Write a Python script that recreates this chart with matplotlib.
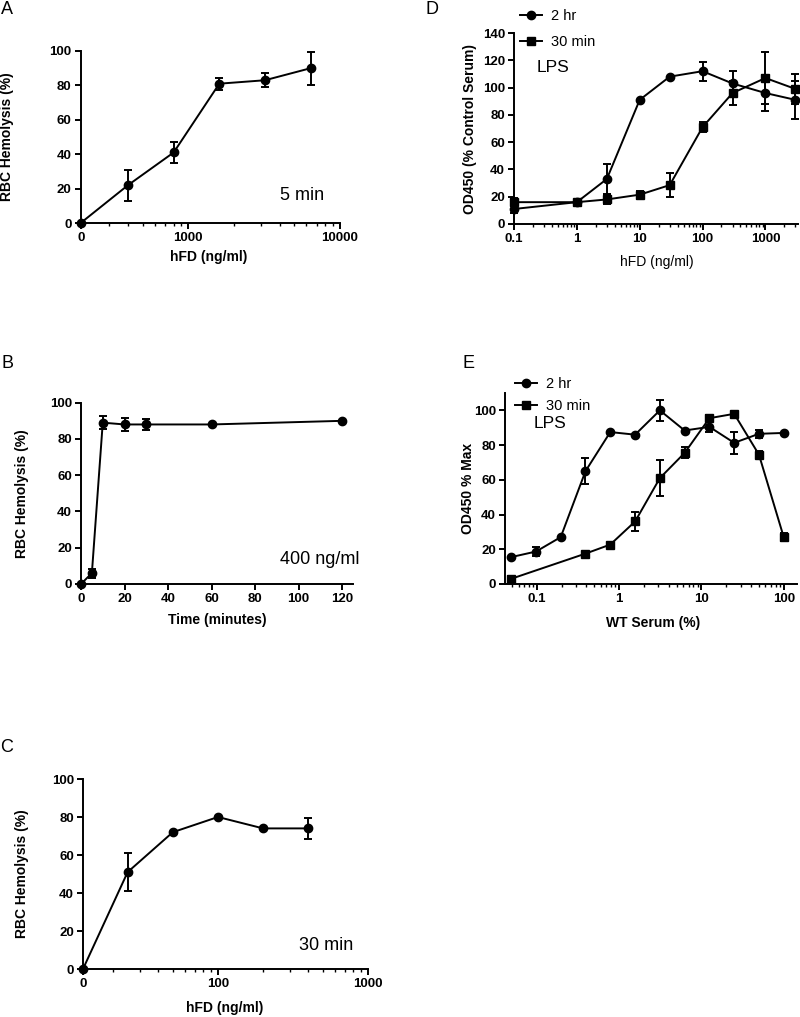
import numpy as np
import matplotlib
matplotlib.use("Agg")
import matplotlib.pyplot as plt
from matplotlib.ticker import FixedLocator, NullFormatter, LogLocator

plt.rcParams['font.family'] = ['Liberation Sans', 'DejaVu Sans']

# ---------------- data ----------------
A_dose = [0, 400, 800, 1600, 3200, 6400]
A_hemo = [0, 22, 41, 81, 83, 90]
A_err = [0, 9, 6, 3.5, 4, 9.5]

B_time = [0, 5, 10, 20, 30, 60, 120]
B_hemo = [0, 6, 89, 88, 88, 88, 90]
B_err = [0, 2.5, 3.5, 3.5, 3, 0, 0]

C_dose = [0, 25, 50, 100, 200, 400]
C_hemo = [0, 51, 72, 80, 74, 74]
C_err = [0, 10, 0, 0, 0, 5.5]

D_dose = [0.1, 1, 3, 10, 30, 100, 300, 1000, 3000]
D_2hr = [11, 16, 33, 91, 108, 112, 103, 96, 91]
D_2hr_err = [3, 0, 11, 0, 0, 7, 9, 13, 14]
D_30min = [16, 16, 18, 21.5, 28.5, 71, 96, 107, 99]
D_30min_err = [3, 1.5, 3, 3, 9, 3.5, 9, 19, 11]

E_serum = [0.0488, 0.0977, 0.195, 0.39, 0.78, 1.5625, 3.125, 6.25, 12.5, 25, 50, 100]
E_2hr = [15.5, 18.7, 27, 65, 87.5, 86, 100, 88.4, 90.5, 81.3, 86.5, 87]
E_2hr_err = [0, 2.6, 0, 7.3, 0, 0, 6, 0, 2.7, 6.4, 2.3, 0]
E_30_serum = [0.0488, 0.39, 0.78, 1.5625, 3.125, 6.25, 12.5, 25, 50, 100]
E_30min = [3, 17.5, 22.7, 36, 61, 75.5, 95.5, 98, 74.5, 27]
E_30min_err = [1.5, 0, 0, 5.6, 10.5, 3.2, 2, 0, 2, 2.5]

# ---------------- style ----------------
W, H = 800, 1017
fig = plt.figure(figsize=(W / 100, H / 100), dpi=100)
LW = 1.4
TICKFS = 9.5
LABFS = 10
ANNFS = 13

def px_axes(x0, x1, y0, y1):
    return fig.add_axes([x0 / W, 1 - y1 / H, (x1 - x0) / W, (y1 - y0) / H])

def style(ax):
    for s in ['top', 'right']:
        ax.spines[s].set_visible(False)
    for s in ['left', 'bottom']:
        ax.spines[s].set_linewidth(LW)
    ax.tick_params(which='major', direction='out', length=4, width=LW,
                   labelsize=TICKFS, pad=2.5)
    ax.tick_params(which='minor', direction='out', length=2.2, width=1.0)
    for lab in ax.get_xticklabels() + ax.get_yticklabels():
        lab.set_fontweight('bold')

def plot_series(ax, x, y, err, marker, ms):
    x = np.asarray(x, float); y = np.asarray(y, float); err = np.asarray(err, float)
    ax.plot(x, y, color='black', lw=LW, marker=marker, ms=ms, clip_on=False, zorder=3)
    m = err > 0
    if m.any():
        ax.errorbar(x[m], y[m], yerr=err[m], fmt='none', ecolor='black',
                    elinewidth=LW, capsize=3.2, capthick=LW, clip_on=False, zorder=3)

def labels(ax, xl, yl, xlc, ylc, xbold=True):
    ax.set_xlabel(xl, fontsize=LABFS, fontweight='bold' if xbold else 'normal', va='center')
    ax.set_ylabel(yl, fontsize=LABFS, fontweight='bold', va='center')
    ax.xaxis.set_label_coords(*xlc)
    ax.yaxis.set_label_coords(*ylc)

def letter(txt, x, y):
    fig.text(x / W, 1 - y / H, txt, fontsize=13, ha='center', va='center')

# ---------------- Panel A ----------------
axA = px_axes(80.7, 340, 51, 223)
A_zero = 195
A_x = [A_zero if d == 0 else d for d in A_dose]
axA.set_xscale('log')
plot_series(axA, A_x, A_hemo, A_err, 'o', 6)
axA.set_xlim(A_zero, 10000)
axA.set_ylim(0, 100)
axA.set_yticks([0, 20, 40, 60, 80, 100])
axA.xaxis.set_major_locator(FixedLocator([A_zero, 1000, 10000]))
axA.set_xticklabels(['0', '1000', '10000'])
axA.xaxis.set_minor_locator(LogLocator(base=10, subs=np.arange(2, 10)))
axA.xaxis.set_minor_formatter(NullFormatter())
style(axA)
labels(axA, 'hFD (ng/ml)', 'RBC Hemolysis (%)', (0.495, -0.198), (-0.284, 0.5))
axA.text(302 / W, 1 - 195 / H, '5 min', transform=fig.transFigure, fontsize=ANNFS,
         ha='center', va='center')
letter('A', 7, 9)

# ---------------- Panel B ----------------
axB = px_axes(81, 353, 402.7, 584)
plot_series(axB, B_time, B_hemo, B_err, 'o', 6)
axB.set_xlim(0, 125)
axB.set_ylim(0, 100)
axB.set_xticks([0, 20, 40, 60, 80, 100, 120])
axB.set_yticks([0, 20, 40, 60, 80, 100])
style(axB)
labels(axB, 'Time (minutes)', 'RBC Hemolysis (%)', (0.5, -0.199), (-0.217, 0.5))
axB.text(320 / W, 1 - 560 / H, '400 ng/ml', transform=fig.transFigure, fontsize=ANNFS,
         ha='center', va='center')
letter('B', 7, 363)

# ---------------- Panel C ----------------
axC = px_axes(83, 368, 779, 969)
C_zero = 12.6
C_x = [C_zero if d == 0 else d for d in C_dose]
axC.set_xscale('log')
plot_series(axC, C_x, C_hemo, C_err, 'o', 6)
axC.set_xlim(C_zero, 1000)
axC.set_ylim(0, 100)
axC.set_yticks([0, 20, 40, 60, 80, 100])
axC.xaxis.set_major_locator(FixedLocator([C_zero, 100, 1000]))
axC.set_xticklabels(['0', '100', '1000'])
axC.xaxis.set_minor_locator(LogLocator(base=10, subs=np.arange(2, 10)))
axC.xaxis.set_minor_formatter(NullFormatter())
style(axC)
labels(axC, 'hFD (ng/ml)', 'RBC Hemolysis (%)', (0.498, -0.205), (-0.214, 0.5))
axC.text(326 / W, 1 - 946 / H, '30 min', transform=fig.transFigure, fontsize=ANNFS,
         ha='center', va='center')
letter('C', 7, 748)

# ---------------- Panel D ----------------
axD = px_axes(514, 798, 33, 224)
axD.set_xscale('log')
plot_series(axD, D_dose, D_2hr, D_2hr_err, 'o', 6)
plot_series(axD, D_dose, D_30min, D_30min_err, 's', 6.2)
axD.set_xlim(0.1, 3300)
axD.set_ylim(0, 140)
axD.set_yticks(np.arange(0, 141, 20))
axD.xaxis.set_major_locator(FixedLocator([0.1, 1, 10, 100, 1000]))
axD.set_xticklabels(['0.1', '1', '10', '100', '1000'])
axD.xaxis.set_minor_locator(LogLocator(base=10, subs=np.arange(2, 10)))
axD.xaxis.set_minor_formatter(NullFormatter())
style(axD)
labels(axD, 'hFD (ng/ml)', 'OD450 (% Control Serum)', (0.503, -0.2), (-0.155, 0.5), xbold=False)
hD = [plt.Line2D([], [], color='black', lw=LW, marker='o', ms=6),
      plt.Line2D([], [], color='black', lw=LW, marker='s', ms=6.2)]
fig.legend(hD, ['2 hr', '30 min'], loc='upper left', bbox_to_anchor=(520 / W, 1 - 9 / H),
           frameon=False, fontsize=10.5, handlelength=1.5, handletextpad=0.6,
           labelspacing=0.85, borderpad=0, borderaxespad=0)
fig.text(553 / W, 1 - 67 / H, 'LPS', fontsize=12.5, ha='center', va='center')
letter('D', 432, 9)

# ---------------- Panel E ----------------
axE = px_axes(505, 797, 393, 584)
axE.set_xscale('log')
plot_series(axE, E_serum, E_2hr, E_2hr_err, 'o', 6)
plot_series(axE, E_30_serum, E_30min, E_30min_err, 's', 6.2)
axE.set_xlim(0.041, 145)
axE.set_ylim(0, 110)
axE.set_yticks([0, 20, 40, 60, 80, 100])
axE.xaxis.set_major_locator(FixedLocator([0.1, 1, 10, 100]))
axE.set_xticklabels(['0.1', '1', '10', '100'])
axE.xaxis.set_minor_locator(LogLocator(base=10, subs=np.arange(2, 10)))
axE.xaxis.set_minor_formatter(NullFormatter())
style(axE)
labels(axE, 'WT Serum (%)', 'OD450 % Max', (0.507, -0.204), (-0.127, 0.5))
hE = [plt.Line2D([], [], color='black', lw=LW, marker='o', ms=6),
      plt.Line2D([], [], color='black', lw=LW, marker='s', ms=6.2)]
fig.legend(hE, ['2 hr', '30 min'], loc='upper left', bbox_to_anchor=(515 / W, 1 - 377 / H),
           frameon=False, fontsize=10.5, handlelength=1.5, handletextpad=0.6,
           labelspacing=0.55, borderpad=0, borderaxespad=0)
fig.text(550 / W, 1 - 424 / H, 'LPS', fontsize=12.5, ha='center', va='center')
letter('E', 468, 363)

fig.savefig('out.png', dpi=100)
